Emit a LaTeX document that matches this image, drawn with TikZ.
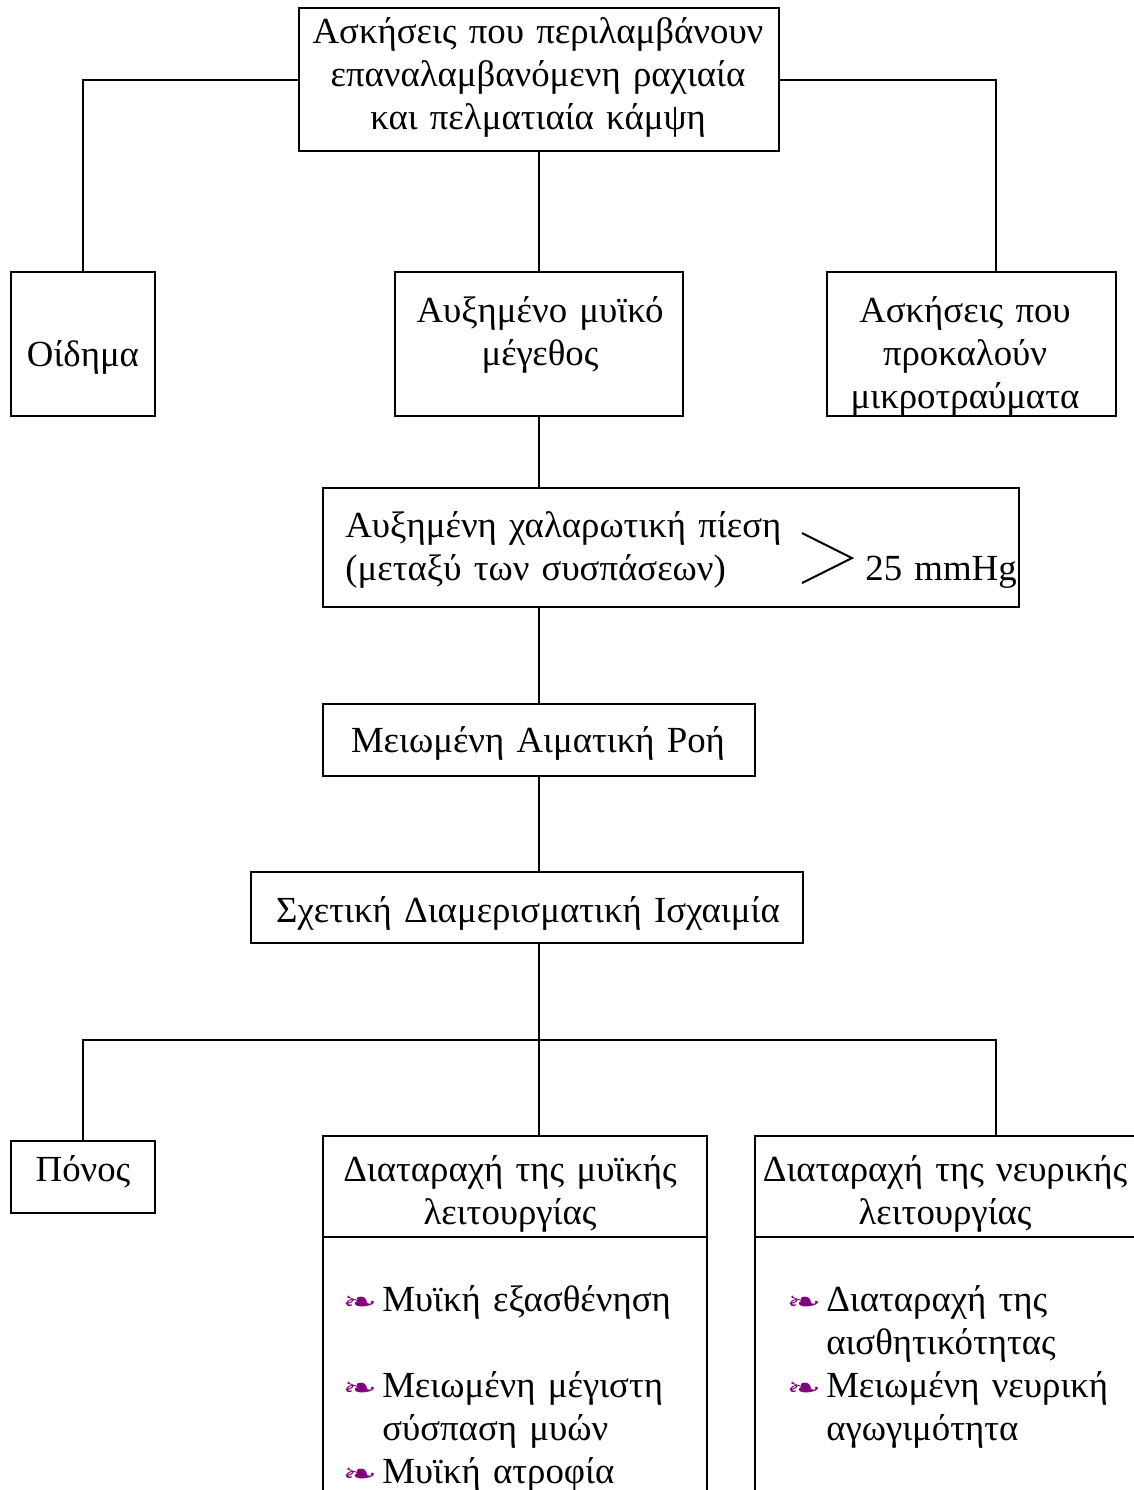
\documentclass[tikz,border=0pt]{standalone}
\usepackage{fontspec}
\setmainfont{Liberation Serif}
\newfontfamily\dingfont{DejaVu Sans}
\usepackage{graphicx}
\usepackage{tikz}
\usetikzlibrary{positioning}
\usepackage{xcolor}
\definecolor{plum}{HTML}{800080}
\newcommand{\bul}{{\dingfont\fontsize{16}{16}\selectfont\textcolor{plum}{\scalebox{1.3}[0.85]{❧}}}\hspace{2.5pt}}

\begin{document}
\begin{tikzpicture}[
        x=0.5pt, y=-0.5pt,
        block/.style={rectangle, draw=black, line width=1pt, inner sep=0pt},
        txt/.style={inner sep=0pt, anchor=base, align=center, text width=#1,
          font=\fontsize{18.4}{21.5}\selectfont},
        txt/.default=280pt,
        listtxt/.style={inner sep=0pt, anchor=base west, align=left, text width=250pt,
          font=\fontsize{18.4}{21.5}\selectfont},
        link/.style={line width=1pt, draw=black},
      ]
        \useasboundingbox (0,0) rectangle (1134,1490);
        \clip (0,0) rectangle (1134,1490);

        \node[block, minimum width=240pt, minimum height=71.5pt] (top) at (539,79.5) {};
        \node[block, minimum width=72pt, minimum height=72pt] (oid) at (83,343.5) {};
        \node[block, minimum width=144pt, minimum height=72pt] (muscle) at (539,343.5) {};
        \node[block, minimum width=144.25pt, minimum height=72pt] (trauma) at (971.25,343.5) {};
        \node[block, minimum width=348.25pt, minimum height=59.5pt] (press) at (670.75,547.5) {};
        \node[block, minimum width=216.25pt, minimum height=35.75pt] (flow) at (538.75,739.75) {};
        \node[block, minimum width=276pt, minimum height=35.5pt] (isch) at (527,907.5) {};
        \node[block, minimum width=72pt, minimum height=36pt] (pain) at (83,1177) {};
        \node[block, minimum width=192.25pt, minimum height=50.5pt] (mhead) at (514.75,1186.5) {};
        \node[block, minimum width=192.25pt, minimum height=146.5pt] (mlist) at (514.75,1383.5) {};
        \node[block, minimum width=191pt, minimum height=50.5pt] (nhead) at (946,1186.5) {};
        \node[block, minimum width=191pt, minimum height=146.5pt] (nlist) at (946,1383.5) {};

        \node[txt] (top-t) at (538,43) {Ασκήσεις που περιλαμβάνουν\\επαναλαμβανόμενη ραχιαία\\και πελματιαία κάμψη};
        \node[txt=70pt] (oid-t) at (83,366) {Οίδημα};
        \node[txt=140pt] (muscle-t) at (540,322) {Αυξημένο μυϊκό\\μέγεθος};
        \node[txt=140pt] (trauma-t) at (965,322) {Ασκήσεις που\\προκαλούν\\μικροτραύματα};
        \node[listtxt] (press-t) at (345,537) {Αυξημένη χαλαρωτική πίεση\\(μεταξύ των συσπάσεων)};
        \node[listtxt, text width=80pt] (mmhg) at (865,580) {25 mmHg};
        \node[txt] (flow-t) at (538,752) {Μειωμένη Αιματική Ροή};
        \node[txt] (isch-t) at (528,922) {Σχετική Διαμερισματική Ισχαιμία};
        \node[txt=70pt] (pain-t) at (83,1181) {Πόνος};
        \node[txt=190pt] (mhead-t) at (510,1181) {Διαταραχή της μυϊκής\\λειτουργίας};
        \node[txt=190pt] (nhead-t) at (945,1181) {Διαταραχή της νευρικής\\λειτουργίας};
        \node[listtxt] (mlist-t) at (342,1311) {\bul Μυϊκή εξασθένηση\\[21.5pt]
          \bul Μειωμένη μέγιστη\\\hphantom{\bul}σύσπαση μυών\\\bul Μυϊκή ατροφία};
        \node[listtxt] (nlist-t) at (786,1311) {\bul Διαταραχή της\\\hphantom{\bul}αισθητικότητας\\
          \bul Μειωμένη νευρική\\\hphantom{\bul}αγωγιμότητα};

        \draw[link] (802,533) -- (852,558) -- (802,583);

        \draw[link] (top.west) -| (oid.north);
        \draw[link] (top.east) -| ([xshift=12.25pt]trauma.north);
        \draw[link] (top.south) -- (muscle.north);
        \draw[link] (muscle.south) -- (muscle.south |- press.north);
        \draw[link] (flow.north |- press.south) -- (flow.north);
        \draw[link] (flow.south) -- (flow.south |- isch.north);
        \draw[link] (flow.south |- isch.south) -- (flow.south |- mhead.north);
        \coordinate (split) at (539,1040);
        \draw[link] (pain.north) |- (split) -| ([xshift=24.75pt]nhead.north);
      \end{tikzpicture}
\end{document}
